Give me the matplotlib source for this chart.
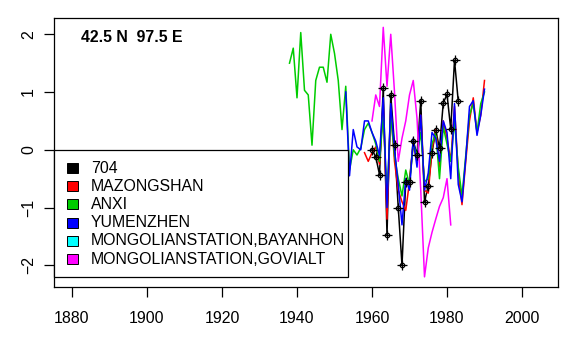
import matplotlib
matplotlib.use("Agg")
import matplotlib.pyplot as plt
from matplotlib.patches import Rectangle

plt.rcParams['font.family'] = ['Liberation Sans', 'DejaVu Sans']

title = "42.5 N  97.5 E"

# station anomaly series (standardised), annual values
st704_years = list(range(1960, 1984))
st704 = [0.0, -0.12, -0.43, 1.07, -1.47, 0.95, 0.09, -1.0, -2.0, -0.55,
         -0.55, 0.16, -0.09, 0.85, -0.9, -0.62, -0.05, 0.34, 0.03, 0.81,
         0.96, 0.36, 1.55, 0.84]

mazongshan_years = list(range(1958, 1991))
mazongshan = [-0.05, -0.2, -0.05, 0.05, -0.25, 0.8, -1.2, 0.7, -0.2, -0.7,
              -0.9, -1.05, -0.55, 0.1, -0.2, 0.6, -0.7, -0.75, 0.0, 0.35,
              -0.3, 0.5, 0.2, -0.2, 0.75, -0.4, -0.95, -0.2, 0.5, 0.9,
              0.3, 0.6, 1.2]

anxi_years = list(range(1938, 1991))
anxi = [1.5, 1.76, 0.9, 2.03, 1.03, 0.95, 0.08, 1.2, 1.43, 1.43,
        1.17, 2.0, 1.67, 1.2, 0.35, 1.1, -0.35, 0.0, -0.09, 0.03,
        0.35, 0.46, 0.3, 0.1, -0.2, 0.6, -0.8, 0.6, -0.1, -0.5,
        -0.8, -0.35, -0.6, 0.1, -0.1, 0.3, -0.55, -0.5, 0.1, 0.3,
        -0.5, 0.4, 0.1, -0.2, 0.5, -0.3, -0.8, -0.1, 0.6, 0.8,
        0.3, 0.8, 1.0]

yumenzhen_years = list(range(1953, 1991))
yumenzhen = [1.0, -0.45, 0.35, 0.05, 0.0, 0.5, 0.5, 0.3, 0.15, -0.1,
             0.9, -1.0, 0.8, 0.0, -0.6, -1.3, -0.5, -0.7, 0.2, -0.3,
             0.6, -0.7, -0.4, 0.3, 0.2, -0.2, 0.5, 0.3, -0.5, 0.8,
             -0.6, -0.9, -0.15, 0.75, 0.85, 0.25, 0.6, 1.05]

bayanhon_years = []
bayanhon = []

govialt_years = list(range(1960, 1982))
govialt = [0.5, 0.95, 0.75, 2.12, 1.1, 2.0, 1.0, -0.2, 0.2, 0.5,
           0.95, 1.2, 0.55, -0.7, -2.2, -1.7, -1.43, -1.2, -0.98, -0.83,
           -0.5, -1.3]

names = ["704", "MAZONGSHAN", "ANXI", "YUMENZHEN",
         "MONGOLIANSTATION,BAYANHON", "MONGOLIANSTATION,GOVIALT"]
colors = ["#000000", "#ff0000", "#00cd00", "#0000ff", "#00ffff", "#ff00ff"]

fig = plt.figure(figsize=(5.76, 3.4), dpi=100)
ax = fig.add_axes([54 / 576, 1 - 287.3 / 340, 504 / 576, 269 / 340])

series = [(st704_years, st704), (mazongshan_years, mazongshan),
          (anxi_years, anxi), (yumenzhen_years, yumenzhen),
          (bayanhon_years, bayanhon), (govialt_years, govialt)]
for (yrs, vals), col in zip(series, colors):
    ax.plot(yrs, vals, color=col, lw=1.1, zorder=2)

# station 704 gets circle-plus markers
ax.plot(st704_years, st704, ls="none", marker="o", mfc="none", mec="black",
        ms=3.2, mew=0.9, zorder=3)
ax.plot(st704_years, st704, ls="none", marker="+", color="black",
        ms=6.5, mew=0.9, zorder=3)

ax.set_xlim(1875.2, 2009.6)
ax.set_ylim(-2.381, 2.277)
ax.set_xticks([1880, 1900, 1920, 1940, 1960, 1980, 2000])
ax.set_yticks([-2, -1, 0, 1, 2])
ax.tick_params(direction="out", length=7, width=0.9, labelsize=11.4)
ax.tick_params(axis="x", pad=10)
ax.tick_params(axis="y", pad=6)
for lab in ax.get_yticklabels():
    lab.set_rotation(90)
    lab.set_va("center")
for sp in ax.spines.values():
    sp.set_linewidth(0.9)

ax.text((81 - 54) / 504, (287.3 - 37) / 269, title, transform=ax.transAxes,
        fontsize=11.4, fontweight="bold", va="center", ha="left")

# legend box drawn by hand
ax.add_patch(Rectangle((0, 10 / 269), 294 / 504, 127.3 / 269,
                       transform=ax.transAxes, facecolor="white",
                       edgecolor="black", lw=0.9, zorder=5, clip_on=False))
row_y = [168, 186.2, 204.4, 222.6, 240.8, 259]
for name, col, py in zip(names, colors, row_y):
    fy = (287.3 - py) / 269
    ax.add_patch(Rectangle((13 / 504, fy - 5 / 269), 11 / 504, 10 / 269,
                           transform=ax.transAxes, facecolor=col,
                           edgecolor="black", lw=0.7, zorder=6))
    ax.text(36.7 / 504, fy, name, transform=ax.transAxes, fontsize=11.4,
            va="center", ha="left", zorder=6)

fig.savefig("out.png", dpi=100)
